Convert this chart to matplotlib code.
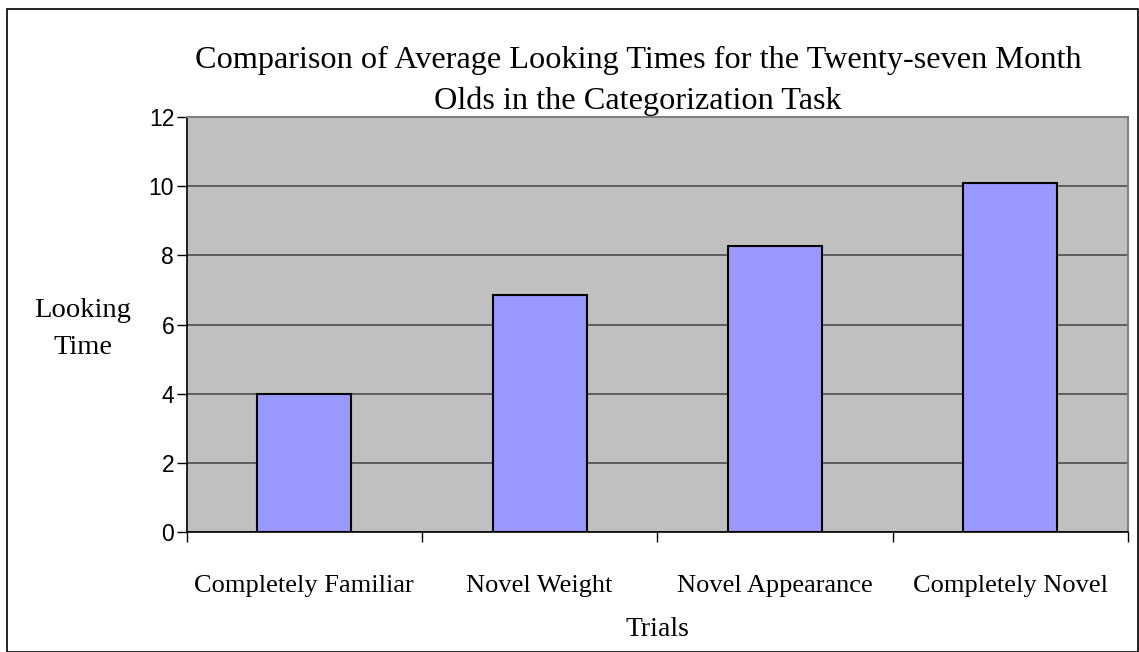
import numpy as np
import matplotlib.pyplot as plt
from matplotlib.patches import Rectangle
from matplotlib.ticker import MultipleLocator, FixedLocator

categories = ["Completely Familiar", "Novel Weight", "Novel Appearance", "Completely Novel"]
looking_time = [4.0, 6.85, 8.27, 10.10]

serif = "Liberation Serif"
sans = "Liberation Sans"

fig = plt.figure(figsize=(11.39, 6.52), dpi=100)
ax = fig.add_axes([0.1639, 0.1845, 0.8264, 0.6355])

x = np.arange(len(categories))
ax.bar(x, looking_time, width=0.4, color="#9999FF", edgecolor="black", linewidth=1.5, zorder=3)

ax.set_facecolor("#C0C0C0")
ax.set_xlim(-0.5, len(categories) - 0.5)
ax.set_ylim(0, 12)
ax.yaxis.set_major_locator(MultipleLocator(2))
ax.grid(axis="y", color="#555555", linewidth=1.3, zorder=1)

# category labels in the middle, tick marks on the boundaries
ax.set_xticks(x)
ax.set_xticklabels(categories, fontfamily=serif, fontsize=19)
ax.tick_params(axis="x", which="major", length=0, pad=31)
ax.xaxis.set_minor_locator(FixedLocator(np.arange(-0.5, len(categories), 1.0)))
ax.tick_params(axis="x", which="minor", length=7, width=1, color="black")
ax.tick_params(axis="y", length=7, width=1, labelsize=16.5, pad=2)
for lab in ax.get_yticklabels():
    lab.set_fontfamily(sans)

for side in ["left", "bottom"]:
    ax.spines[side].set_color("black")
    ax.spines[side].set_linewidth(1.2)
for side in ["top", "right"]:
    ax.spines[side].set_color("#808080")
    ax.spines[side].set_linewidth(1.5)

fig.text(638 / 1139, 1 - 81 / 652, "Comparison of Average Looking Times for the Twenty-seven Month\nOlds in the Categorization Task",
         ha="center", va="center", fontfamily=serif, fontsize=23.2, linespacing=1.55)
fig.text(83 / 1139, 1 - 329 / 652, "Looking\nTime", ha="center", va="center",
         fontfamily=serif, fontsize=20.5, linespacing=1.6)
fig.text(657 / 1139, 1 - 630 / 652, "Trials", ha="center", va="center",
         fontfamily=serif, fontsize=20)

# outer chart border
fig.patches.append(Rectangle((7 / 1139, 0.0), 1 - 7 / 1139 - 0.0005, 1 - 9 / 652,
                             transform=fig.transFigure, fill=False,
                             edgecolor="black", linewidth=1.2))

fig.savefig("out.png", dpi=100)
